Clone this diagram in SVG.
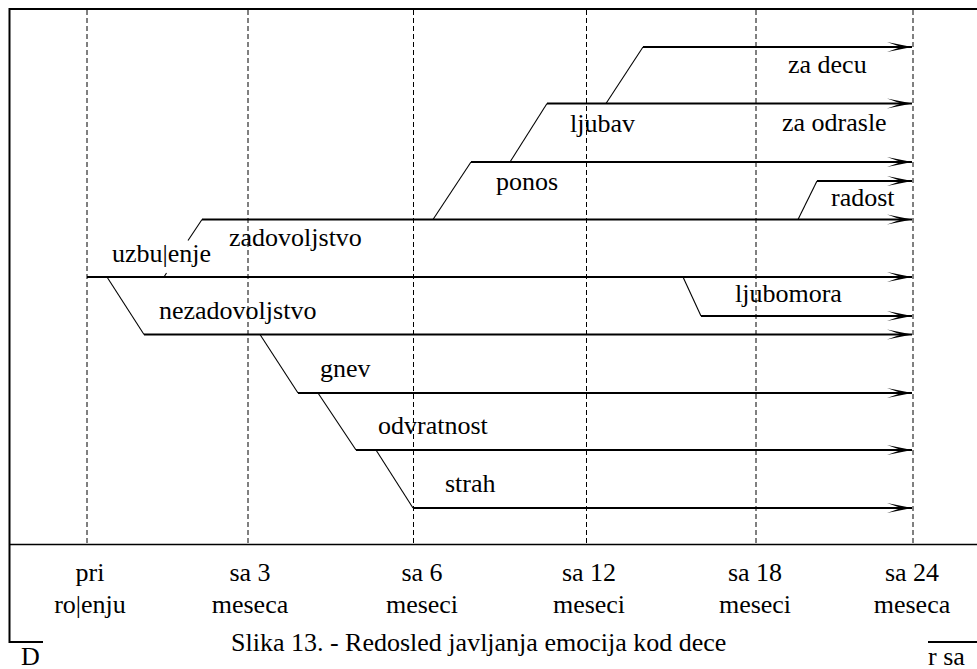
<svg xmlns="http://www.w3.org/2000/svg" width="977" height="669" viewBox="0 0 977 669">
<style>
text{font-family:"Liberation Serif","Times New Roman",serif;font-size:26px;fill:#000}
.mid{text-anchor:middle}
.frame{stroke:#000;stroke-width:2;fill:none}
.grid{stroke:#000;stroke-width:1;stroke-dasharray:5,3;fill:none}
.arr{stroke:#000;stroke-width:2.2;fill:none}
.dia{stroke:#000;stroke-width:1.1;fill:none}
</style>
<defs>
<marker id="ah" markerUnits="userSpaceOnUse" markerWidth="28" markerHeight="14" viewBox="-26 -7 28 14" refX="0" refY="0" orient="auto">
<path d="M0,0 L-25,-5 Q-14,-1 -11,0 Q-14,1 -25,5 Z" fill="#000"/>
</marker>
</defs>
<rect width="977" height="669" fill="#fff"/>
<g id="frame">
<path class="frame" d="M977,9 H9.5 V642 H43"/>
<line x1="9.5" y1="544.5" x2="977" y2="544.5" stroke="#000" stroke-width="1.6"/>
<line x1="928" y1="642" x2="977" y2="642" stroke="#000" stroke-width="2"/>
</g>
<g id="grid">
<line class="grid" x1="87" y1="10" x2="87" y2="544"/>
<line class="grid" x1="248" y1="10" x2="248" y2="544"/>
<line class="grid" x1="413.5" y1="10" x2="413.5" y2="544"/>
<line class="grid" x1="586.5" y1="10" x2="586.5" y2="544"/>
<line class="grid" x1="756" y1="10" x2="756" y2="544"/>
<line class="grid" x1="913" y1="10" x2="913" y2="544"/>
</g>
<g id="connectors">
<line class="arr" x1="643" y1="47" x2="912" y2="47" marker-end="url(#ah)"/>
<line class="arr" x1="547" y1="103.5" x2="912" y2="103.5" marker-end="url(#ah)"/>
<line class="arr" x1="471" y1="162" x2="912" y2="162" marker-end="url(#ah)"/>
<line class="arr" x1="817" y1="181" x2="912" y2="181" marker-end="url(#ah)"/>
<line class="arr" x1="202" y1="219.5" x2="912" y2="219.5" marker-end="url(#ah)"/>
<line class="arr" x1="87" y1="277" x2="912" y2="277" marker-end="url(#ah)"/>
<line class="arr" x1="701" y1="316" x2="912" y2="316" marker-end="url(#ah)"/>
<line class="arr" x1="144" y1="334.5" x2="912" y2="334.5" marker-end="url(#ah)"/>
<line class="arr" x1="298" y1="393" x2="912" y2="393" marker-end="url(#ah)"/>
<line class="arr" x1="356" y1="450" x2="912" y2="450" marker-end="url(#ah)"/>
<line class="arr" x1="413" y1="508" x2="912" y2="508" marker-end="url(#ah)"/>
<line class="dia" x1="606" y1="103.5" x2="643" y2="47"/>
<line class="dia" x1="510" y1="162" x2="547" y2="103.5"/>
<line class="dia" x1="433" y1="219.5" x2="471" y2="162"/>
<line class="dia" x1="798" y1="219.5" x2="817" y2="181"/>
<line class="dia" x1="202" y1="219.5" x2="188" y2="240.5"/>
<line class="dia" x1="166.5" y1="273" x2="164" y2="277"/>
<line class="dia" x1="107" y1="277" x2="144" y2="334.5"/>
<line class="dia" x1="683" y1="277" x2="701" y2="316"/>
<line class="dia" x1="260" y1="334.5" x2="298" y2="393"/>
<line class="dia" x1="318" y1="393" x2="356" y2="450"/>
<line class="dia" x1="376" y1="450" x2="413" y2="508"/>
</g>
<g id="labels">
<text x="788" y="73">za decu</text>
<text x="782" y="131">za odrasle</text>
<text x="570" y="132">ljubav</text>
<text x="496" y="190">ponos</text>
<text x="831" y="206">radost</text>
<text x="229" y="246">zadovoljstvo</text>
<text x="112" y="262">uzbu|enje</text>
<text x="735" y="302">ljubomora</text>
<text x="159" y="319">nezadovoljstvo</text>
<text x="320" y="377">gnev</text>
<text x="378" y="434">odvratnost</text>
<text x="445" y="492">strah</text>
</g>
<g id="axis-labels">
<text class="mid" x="90" y="581">pri</text>
<text class="mid" x="90" y="613">ro|enju</text>
<text class="mid" x="250" y="581">sa 3</text>
<text class="mid" x="250" y="613">meseca</text>
<text class="mid" x="422" y="581">sa 6</text>
<text class="mid" x="422" y="613">meseci</text>
<text class="mid" x="589" y="581">sa 12</text>
<text class="mid" x="589" y="613">meseci</text>
<text class="mid" x="755" y="581">sa 18</text>
<text class="mid" x="755" y="613">meseci</text>
<text class="mid" x="912" y="581">sa 24</text>
<text class="mid" x="912" y="613">meseca</text>
</g>
<g id="caption">
<text x="231" y="651">Slika 13. - Redosled javljanja emocija kod dece</text>
<text x="21" y="665">D</text>
<text x="928" y="665">r sa</text>
</g>
</svg>
